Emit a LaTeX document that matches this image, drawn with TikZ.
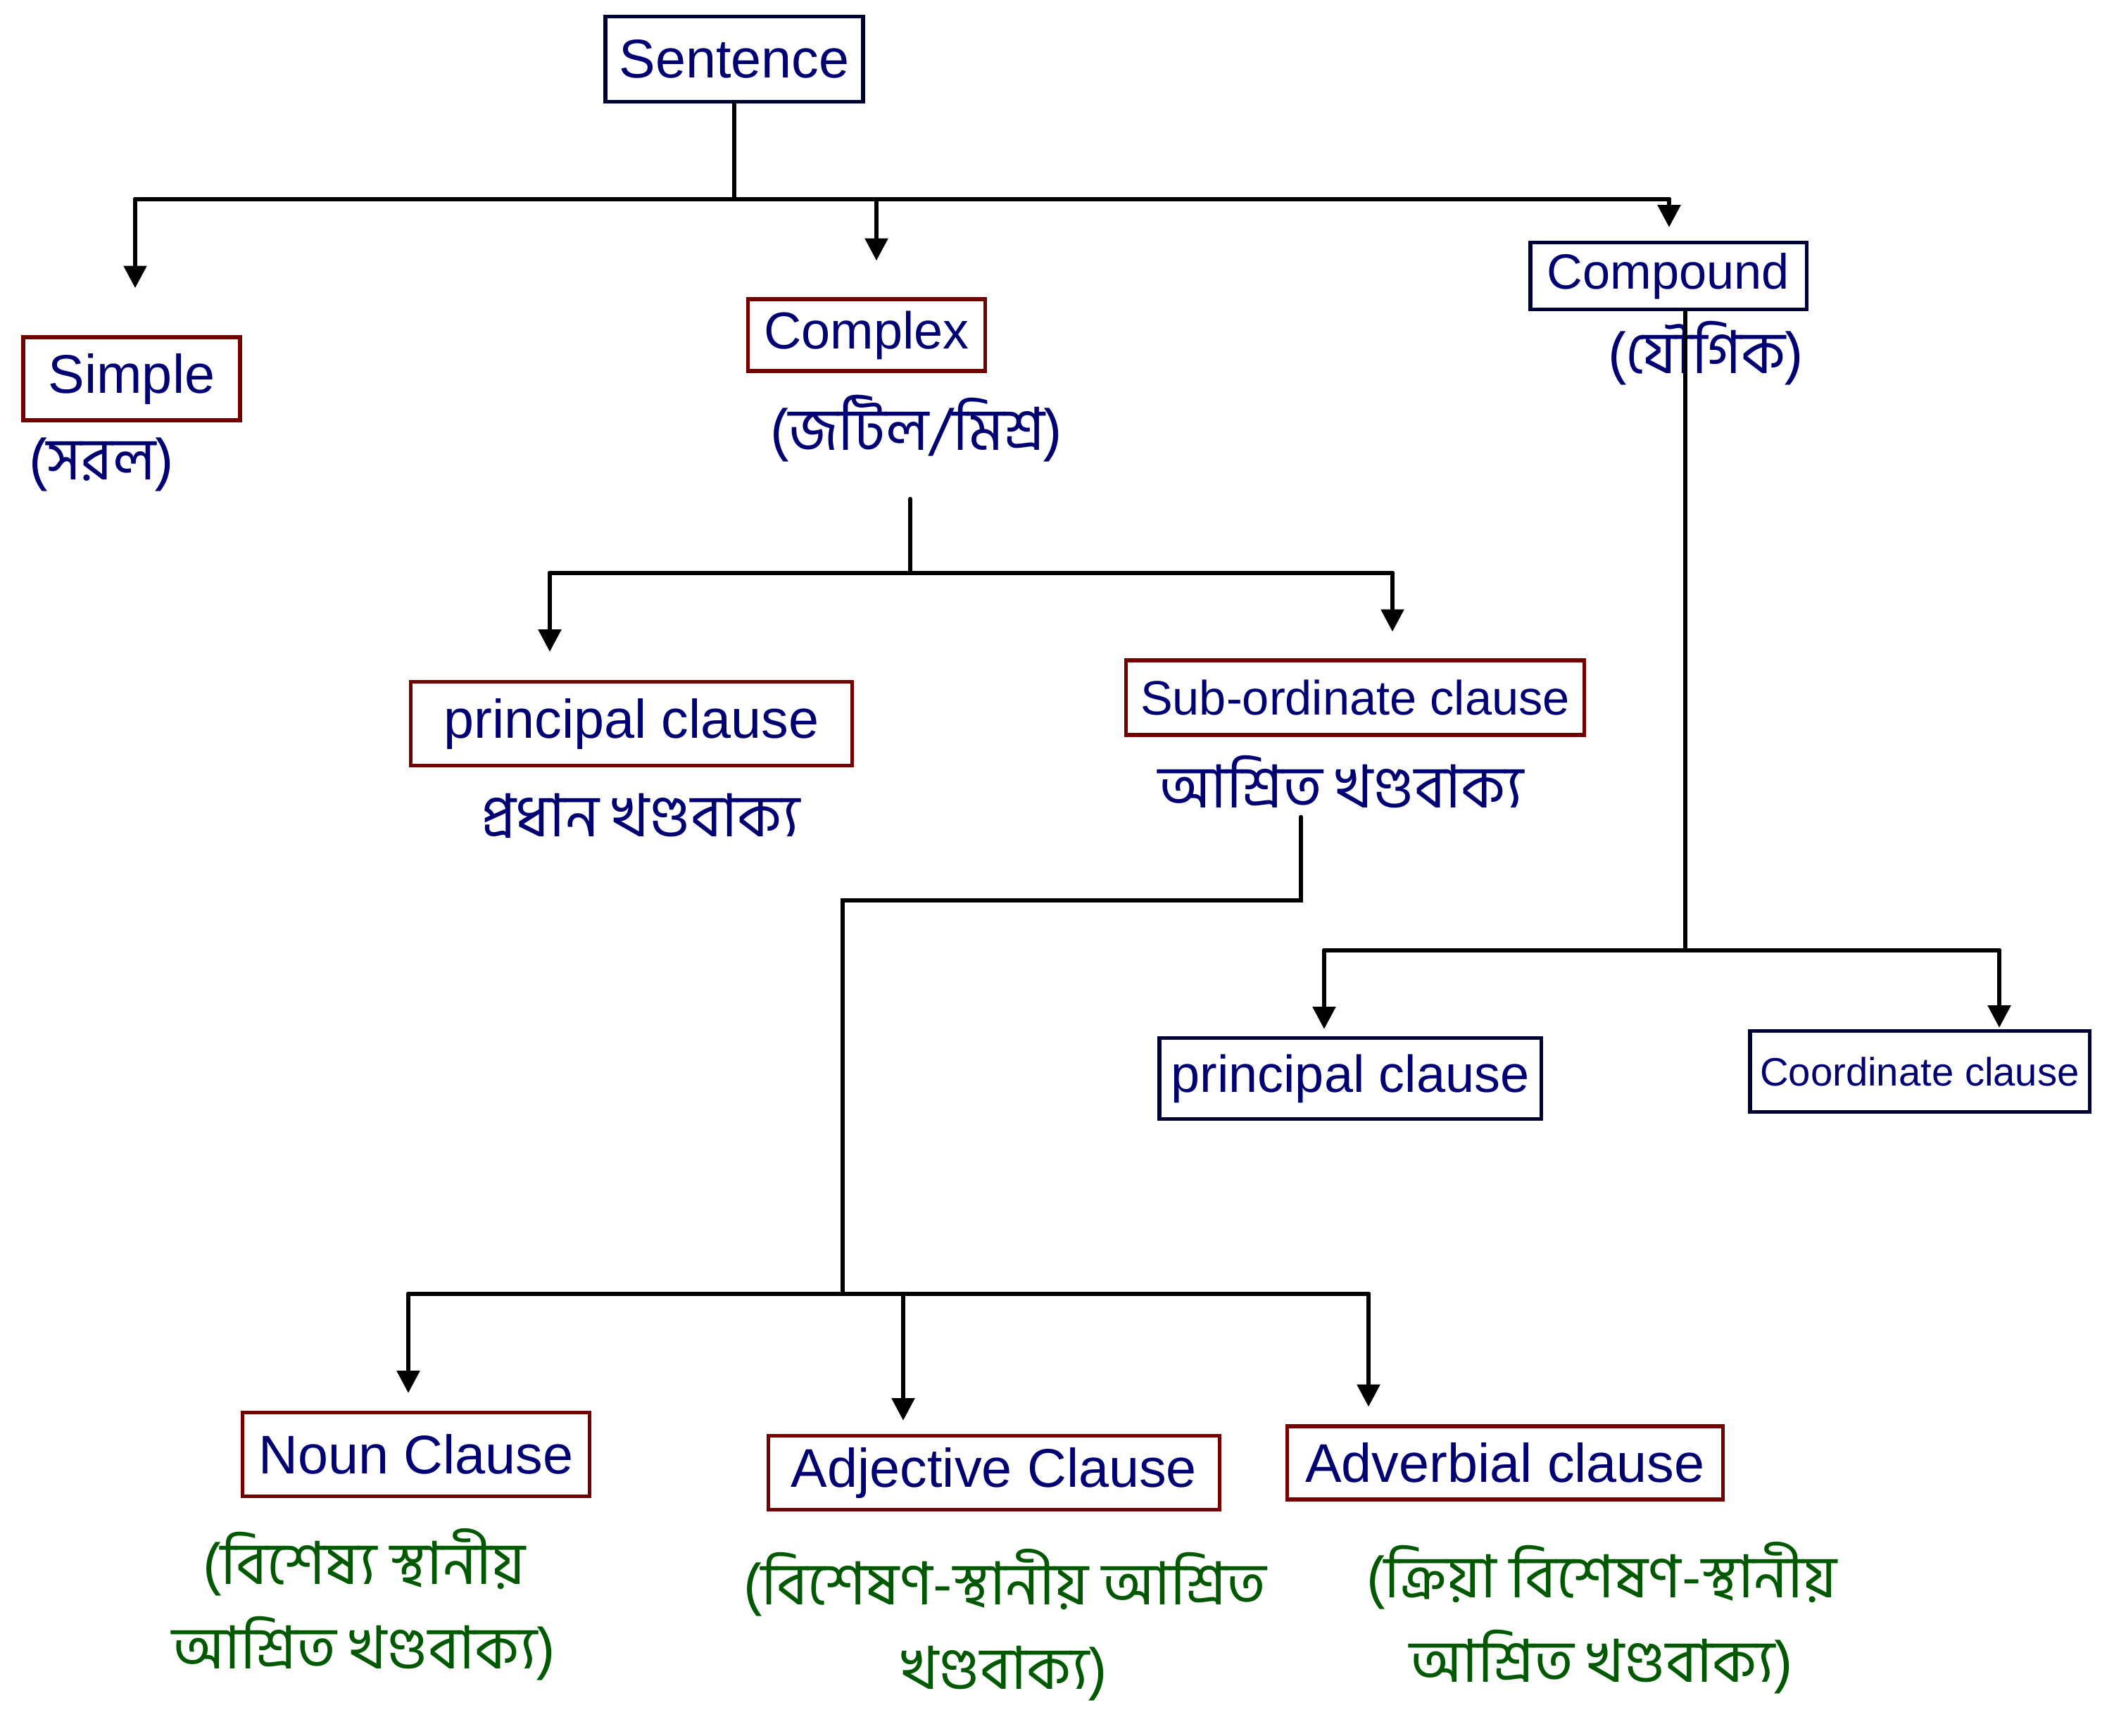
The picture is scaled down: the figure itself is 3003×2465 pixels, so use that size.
\documentclass[tikz,border=0pt]{standalone}
\usepackage{fontspec}
\setmainfont{Liberation Sans}
\newfontfamily\bnfont[Script=Bengali]{Hind Siliguri}
\usetikzlibrary{arrows.meta,calc}

\begin{document}
\begin{tikzpicture}[x=0.01cm,y=-0.01cm,line cap=round]
  % Colors
  \colorlet{redbox}{red!45!black}
  \colorlet{darkbox}{black!80!blue}
  \colorlet{inkblue}{blue!45!black}
  \colorlet{inkgreen}{green!35!black}

  % Styles
  \tikzstyle{box}=[draw,line width=1.5pt,text=inkblue,inner sep=0pt,font=\fontsize{22}{26}\selectfont]
  \tikzstyle{red box}=[box,draw=redbox]
  \tikzstyle{dark box}=[box,draw=darkbox]
  \tikzstyle{bn}=[text=inkblue,align=center,font=\bnfont\fontsize{24}{34}\selectfont]
  \tikzstyle{bn green}=[bn,text=inkgreen]
  \tikzstyle{link}=[line width=1.8pt]
  \tikzstyle{arrow}=[link,-{Triangle[width=9pt,length=9pt]}]

  \useasboundingbox (0,0) rectangle (3003,2465);

  % The boxes
  \node[dark box,minimum width=3.66cm,minimum height=1.21cm] (sentence) at (1043,84) {Sentence};

  \node[red box,minimum width=3.08cm,minimum height=1.18cm] (simple) at (187,538) {Simple};
  \node[bn] (simple bn) at (144,660) {(সরল)};

  \node[red box,minimum width=3.37cm,minimum height=1.02cm,font=\fontsize{21}{25}\selectfont] (complex) at (1231,476) {Complex};
  \node[bn] (complex bn) at (1302,609) {(জটিল/মিশ্র)};

  \node[dark box,minimum width=3.92cm,minimum height=0.95cm,font=\fontsize{20}{24}\selectfont] (compound) at (2370,392) {Compound};
  \node[bn] (compound bn) at (2423,502) {(যৌগিক)};

  \node[red box,minimum width=6.26cm,minimum height=1.19cm] (principal) at (897,1028) {principal clause};
  \node[bn] (principal bn) at (910,1159) {প্রধান খণ্ডবাক্য};

  \node[red box,minimum width=6.51cm,minimum height=1.06cm,font=\fontsize{19.5}{23}\selectfont] (subord) at (1925,991) {Sub-ordinate clause};
  \node[bn] (subord bn) at (1905,1111) {আশ্রিত খণ্ডবাক্য};

  \node[dark box,minimum width=5.42cm,minimum height=1.15cm,font=\fontsize{21}{25}\selectfont] (principal two) at (1918,1532) {principal clause};
  \node[dark box,minimum width=4.82cm,minimum height=1.15cm,font=\fontsize{16}{19}\selectfont] (coord) at (2727,1522) {Coordinate clause};

  \node[red box,minimum width=4.92cm,minimum height=1.19cm] (noun) at (591,2066) {Noun Clause};
  \node[bn green] (noun bn) at (517,2279) {(বিশেষ্য স্থানীয়\\ আশ্রিত খণ্ডবাক্য)};

  \node[red box,minimum width=6.41cm,minimum height=1.05cm] (adj) at (1412,2092) {Adjective Clause};
  \node[bn green] (adj bn) at (1427,2308) {(বিশেষণ-স্থানীয় আশ্রিত\\ খণ্ডবাক্য)};

  \node[red box,minimum width=6.18cm,minimum height=1.04cm] (adverb) at (2138,2078) {Adverbial clause};
  \node[bn green] (adverb bn) at (2275,2298) {(ক্রিয়া বিশেষণ-স্থানীয়\\ আশ্রিত খণ্ডবাক্য)};

  % Sentence
  \coordinate (s1) at (192,283);
  \coordinate (s2) at (1245,283);
  \coordinate (s3) at (2371,283);
  \draw[link] (sentence) -- (sentence |- s1);
  \draw[link] (s1) -- (s3);
  \draw[arrow,shorten >=0.67cm] (s1) -- (s1 |- simple.north);
  \draw[arrow,shorten >=0.52cm] (s2) -- (s2 |- complex.north);
  \draw[arrow,shorten >=0.19cm] (s3) -- (s3 |- compound.north);

  % Complex
  \coordinate (c1) at (781,814);
  \coordinate (c2) at (1293,814);
  \coordinate (c3) at (1978,814);
  \draw[link,shorten <=0.4cm] (c2 |- complex bn.south) -- (c2);
  \draw[link] (c1) -- (c3);
  \draw[arrow,shorten >=0.4cm] (c1) -- (c1 |- principal.north);
  \draw[arrow,shorten >=0.38cm] (c3) -- (c3 |- subord.north);

  % Sub-ordinate
  \coordinate (k1) at (1848,1279);
  \coordinate (k2) at (1197,1279);
  \coordinate (a1) at (580,1838);
  \coordinate (a2) at (1197,1838);
  \coordinate (a3) at (1283,1838);
  \coordinate (a4) at (1944,1838);
  \draw[link] (k1 |- subord bn.south) -- (k1) -- (k2) -- (a2);
  \draw[link] (a1) -- (a4);
  \draw[arrow,shorten >=0.25cm] (a1) -- (a1 |- noun.north);
  \draw[arrow,shorten >=0.19cm] (a3) -- (a3 |- adj.north);
  \draw[arrow,shorten >=0.25cm] (a4) -- (a4 |- adverb.north);

  % Compound
  \coordinate (p1) at (1881,1350);
  \coordinate (p2) at (2394,1350);
  \coordinate (p3) at (2840,1350);
  \draw[link] (p2 |- compound.south) -- (p2);
  \draw[link] (p1) -- (p3);
  \draw[arrow,shorten >=0.1cm] (p1) -- (p1 |- principal two.north);
  \draw[arrow,shorten >=0.02cm] (p3) -- (p3 |- coord.north);
\end{tikzpicture}
\end{document}
